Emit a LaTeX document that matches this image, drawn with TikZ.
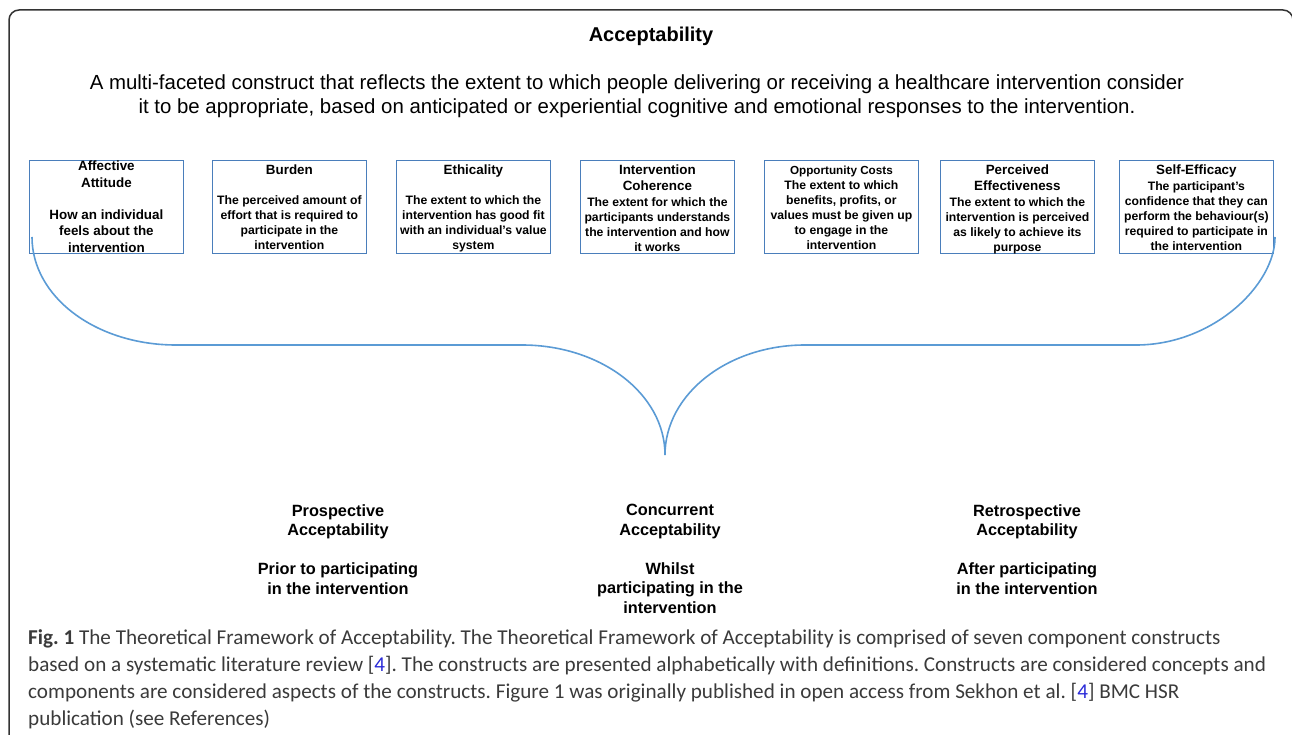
\documentclass[tikz,border=0pt]{standalone}
\usepackage{fontspec}
\setmainfont{Liberation Sans}
\newfontfamily\capfont{Carlito}
\newcommand{\boxtitle}[1]{{\fontsize{13.4}{15}\selectfont #1}}
\begin{document}
\begin{tikzpicture}[x=1pt, y=-1pt,
  cbox/.style={draw=boxcol, line width=0.8pt, anchor=north west,
    minimum width=154pt, minimum height=93pt, inner sep=0pt},
  ctext/.style={anchor=north, inner sep=0pt, align=center,
    font=\bfseries\fontsize{12.2}{15}\selectfont},
  phase/.style={anchor=north, inner sep=0pt, align=center,
    font=\bfseries\fontsize{16.3}{19.5}\selectfont}]
\definecolor{boxcol}{HTML}{4A7EBB}
\definecolor{bracecol}{HTML}{5B9BD5}
\definecolor{framecol}{HTML}{333333}
\definecolor{capcol}{HTML}{3A3A3A}
\definecolor{linkcol}{HTML}{2A2AD8}
\clip (0,0) rectangle (1292,735);
% outer frame
\draw[framecol, line width=1.5pt, rounded corners=10pt] (9,10) rectangle (1293,760);
% heading
\node[anchor=base, inner sep=0pt, font=\bfseries\fontsize{20}{24}\selectfont] (title) at (651,42) {Acceptability};
\node[anchor=north, inner sep=0pt, align=center, font=\fontsize{20.4}{24}\selectfont] (def) at (637,75)
  {A multi-faceted construct that reflects the extent to which people delivering or receiving a healthcare intervention consider\\
   it to be appropriate, based on anticipated or experiential cognitive and emotional responses to the intervention.};
% component constructs
\node[cbox] (aff) at (29,160) {};
\node[ctext, font=\bfseries\fontsize{13.4}{16.5}\selectfont] (afft) at ([yshift=-1pt]aff.north)
  {Affective\\Attitude\\[15.5pt]How an individual\\feels about the\\intervention};
\node[cbox] (bur) at (212,160) {};
\node[ctext] (burt) at ([yshift=-5pt]bur.north)
  {\boxtitle{Burden}\\[15pt]The perceived amount of\\effort that is required to\\participate in the\\intervention};
\node[cbox] (eth) at (396,160) {};
\node[ctext] (etht) at ([yshift=-5pt]eth.north)
  {\boxtitle{Ethicality}\\[15pt]The extent to which the\\intervention has good fit\\with an individual's value\\system};
\node[cbox] (coh) at (580,160) {};
\node[ctext] (coht) at ([yshift=-5pt]coh.north)
  {\boxtitle{Intervention}\\[1pt]\boxtitle{Coherence}\\[1pt]The extent for which the\\participants understands\\the intervention and how\\it works};
\node[cbox] (opp) at (764,160) {};
\node[ctext] (oppt) at ([yshift=-6pt]opp.north)
  {{\fontsize{11.7}{15}\selectfont Opportunity Costs}\\The extent to which\\benefits, profits, or\\values must be given up\\to engage in the\\intervention};
\node[cbox] (eff) at (940,160) {};
\node[ctext] (efft) at ([yshift=-5pt]eff.north)
  {\boxtitle{Perceived}\\[1pt]\boxtitle{Effectiveness}\\[1pt]The extent to which the\\intervention is perceived\\as likely to achieve its\\purpose};
\node[cbox] (sel) at (1119,160) {};
\node[ctext] (selt) at ([yshift=-5pt]sel.north)
  {\boxtitle{Self-Efficacy}\\[1pt]The participant's\\confidence that they can\\perform the behaviour(s)\\required to participate in\\the intervention};
% brace
\coordinate (tip) at (665,455);
\draw[bracecol, line width=1.6pt]
  (32,237) .. controls (32,297) and (96,345) .. (176,345) -- (522,345)
  .. controls (601,345) and (665,394) .. (tip)
  .. controls (665,394) and (728,345) .. (805,345) -- (1136,345)
  .. controls (1213,345) and (1275,285) .. (1275,237);
% temporal perspectives
\node[phase] (pro) at (338,504) {Prospective\\Acceptability\\[19.5pt]Prior to participating\\in the intervention};
\node[phase] (con) at (670,504) {Concurrent\\Acceptability\\[19.5pt]Whilst\\participating in the\\intervention};
\node[phase] (ret) at (1027,504) {Retrospective\\Acceptability\\[19.5pt]After participating\\in the intervention};
% caption
\node[anchor=north west, inner sep=0pt, align=left, text=capcol, font=\capfont\frenchspacing\fontsize{21.15}{27}\selectfont] (cap) at (28,629)
  {\textbf{Fig. 1} The Theoretical Framework of Acceptability. The Theoretical Framework of Acceptability is comprised of seven component constructs\\
   based on a systematic literature review [\textcolor{linkcol}{4}]. The constructs are presented alphabetically with definitions. Constructs are considered concepts and\\
   components are considered aspects of the constructs. Figure 1 was originally published in open access from Sekhon et al. [\textcolor{linkcol}{4}] BMC HSR\\
   publication (see References)};
\end{tikzpicture}
\end{document}
